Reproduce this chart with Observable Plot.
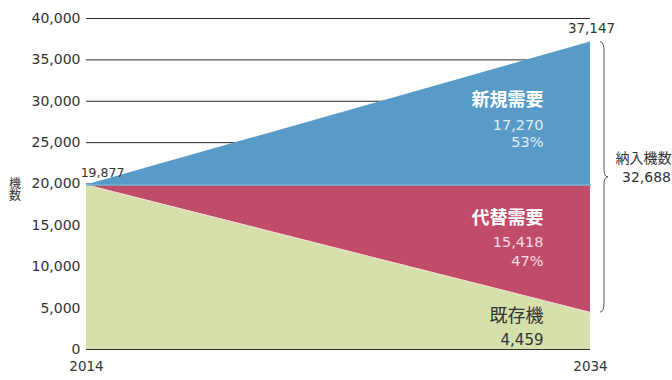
<!DOCTYPE html>
<html><head><meta charset="utf-8">
<script src="https://cdn.jsdelivr.net/npm/d3@7"></script>
<script src="https://cdn.jsdelivr.net/npm/@observablehq/plot@0.6"></script>
<style>
body{margin:0;background:#fff;}
#chart svg{display:block;}
</style>
</head><body><div id="chart"></div>
<script>
const years = [2014, 2034];
const categories = ["既存機", "代替需要", "新規需要"];
const existing = [19877, 4459];
const replacement = [0, 15418];
const newDemand = [0, 17270];
const shares = ["47%", "53%"];
const yTicks = [0, 5000, 10000, 15000, 20000, 25000, 30000, 35000, 40000];
const colors = ["#d6e0aa", "#c14c69", "#589bc8"];
const deliveredLabel = "納入機数";
const yLabel = "機数";

const fmt = d3.format(",");
const series = [existing, replacement, newDemand];
const rows = [];
categories.forEach((c, ci) => years.forEach((yr, i) => rows.push({year: yr, category: c, value: series[ci][i]})));

const endIdx = years.length - 1;
const start = existing[0];
const endExisting = existing[endIdx];
const endTop = existing[endIdx] + replacement[endIdx] + newDemand[endIdx];
const delivered = replacement[endIdx] + newDemand[endIdx];
const lastYear = years[endIdx];
const redTop = years.map((y, i) => existing[i] + replacement[i]);

const midNew = redTop[endIdx] + newDemand[endIdx] / 2;
const midRep = endExisting + replacement[endIdx] / 2;
const midEx = endExisting / 2;

const font = "'DejaVu Sans', 'Noto Sans CJK JP', sans-serif";
const cjk = "'Noto Sans CJK JP', sans-serif";

function brace(index, scales) {
  const x0 = scales.x(lastYear) + 10;
  const yTop = scales.y(endTop);
  const yBot = scales.y(endExisting);
  const yMid = (yTop + yBot) / 2;
  const w = 4;
  const p = d3.path();
  p.moveTo(x0, yTop);
  p.quadraticCurveTo(x0 + w, yTop, x0 + w, yTop + 10);
  p.lineTo(x0 + w, yMid - 8);
  p.quadraticCurveTo(x0 + w, yMid, x0 + 2 * w, yMid);
  p.quadraticCurveTo(x0 + w, yMid, x0 + w, yMid + 8);
  p.lineTo(x0 + w, yBot - 10);
  p.quadraticCurveTo(x0 + w, yBot, x0, yBot);
  return d3.create("svg:path")
    .attr("d", p.toString())
    .attr("fill", "none")
    .attr("stroke", "#555")
    .attr("stroke-width", 1)
    .node();
}

function verticalYLabel(index, scales, values, dimensions) {
  return d3.create("svg:text")
    .attr("x", dimensions.marginLeft - 71)
    .attr("y", scales.y(start) + 5)
    .attr("text-anchor", "middle")
    .attr("fill", "#333")
    .attr("font-size", 12)
    .attr("font-family", cjk)
    .style("writing-mode", "vertical-rl")
    .text(yLabel)
    .node();
}

const chart = Plot.plot({
  width: 672,
  height: 380,
  marginLeft: 86,
  marginRight: 82,
  marginTop: 18,
  marginBottom: 31,
  style: {fontFamily: font, fontSize: "14px", color: "#333", background: "#fff", overflow: "visible"},
  x: {domain: [years[0], lastYear], ticks: years, tickFormat: d => String(d), tickSize: 0, tickPadding: 12, label: null},
  y: {domain: [0, 40000], ticks: yTicks, tickFormat: fmt, tickSize: 0, tickPadding: 6, label: null},
  color: {domain: categories, range: colors},
  marks: [
    Plot.ruleY(yTicks, {x1: years[0], x2: lastYear, stroke: "#111", strokeWidth: 0.9}),
    Plot.areaY(rows, {x: "year", y: "value", fill: "category", order: categories}),
    Plot.lineY(years, {x: d => d, y: (d, i) => existing[i], stroke: "#f1d9cf", strokeWidth: 1.2}),
    Plot.lineY(years, {x: d => d, y: (d, i) => redTop[i], stroke: "#6cb7d8", strokeWidth: 1.5}),
    Plot.ruleY([0], {x1: years[0], x2: lastYear, stroke: "#333", strokeWidth: 1.2}),
    Plot.axisY({ticks: yTicks, tickFormat: fmt, tickSize: 0, tickPadding: 6, fontSize: 14, fill: "#333"}),
    Plot.axisX({ticks: years, tickFormat: d => String(d), tickSize: 0, tickPadding: 12, fontSize: 13.5, fill: "#333"}),
    // start / end values
    Plot.text([start], {x: years[0], y: d => d, text: d => fmt(d), dx: 16, dy: -12, fill: "#333", fontSize: 12.5}),
    Plot.text([endTop], {x: lastYear, y: d => d, text: d => fmt(d), dx: 1, dy: -13, fill: "#333", fontSize: 13.5}),
    // y label (vertical)
    verticalYLabel,
    // band labels
    Plot.text([categories[2]], {x: lastYear, y: midNew, text: d => d, textAnchor: "end", dx: -47, dy: -13, fill: "#fff", fontSize: 18, fontWeight: "bold", fontFamily: cjk}),
    Plot.text([newDemand[endIdx]], {x: lastYear, y: midNew, text: d => fmt(d), textAnchor: "end", dx: -47, dy: 12, fill: "#e3edf5", fontSize: 14.5}),
    Plot.text([shares[1]], {x: lastYear, y: midNew, text: d => d, textAnchor: "end", dx: -47, dy: 29, fill: "#e3edf5", fontSize: 14.5}),
    Plot.text([categories[1]], {x: lastYear, y: midRep, text: d => d, textAnchor: "end", dx: -47, dy: -31, fill: "#fff", fontSize: 18, fontWeight: "bold", fontFamily: cjk}),
    Plot.text([replacement[endIdx]], {x: lastYear, y: midRep, text: d => fmt(d), textAnchor: "end", dx: -47, dy: -6, fill: "#f5dde3", fontSize: 14.5}),
    Plot.text([shares[0]], {x: lastYear, y: midRep, text: d => d, textAnchor: "end", dx: -47, dy: 13, fill: "#f5dde3", fontSize: 14.5}),
    Plot.text([categories[0]], {x: lastYear, y: midEx, text: d => d, textAnchor: "end", dx: -47, dy: -15, fill: "#333", fontSize: 18, fontFamily: cjk}),
    Plot.text([endExisting], {x: lastYear, y: midEx, text: d => fmt(d), textAnchor: "end", dx: -47, dy: 9, fill: "#333", fontSize: 15}),
    // brace and delivered total
    brace,
    Plot.text([deliveredLabel], {x: lastYear, y: (endTop + endExisting) / 2, text: d => d, dx: 53, dy: -19, fill: "#333", fontSize: 14, fontFamily: cjk}),
    Plot.text([delivered], {x: lastYear, y: (endTop + endExisting) / 2, text: d => fmt(d), dx: 56, dy: 0, fill: "#333", fontSize: 14})
  ]
});
document.getElementById("chart").appendChild(chart);
</script>
</body></html>
